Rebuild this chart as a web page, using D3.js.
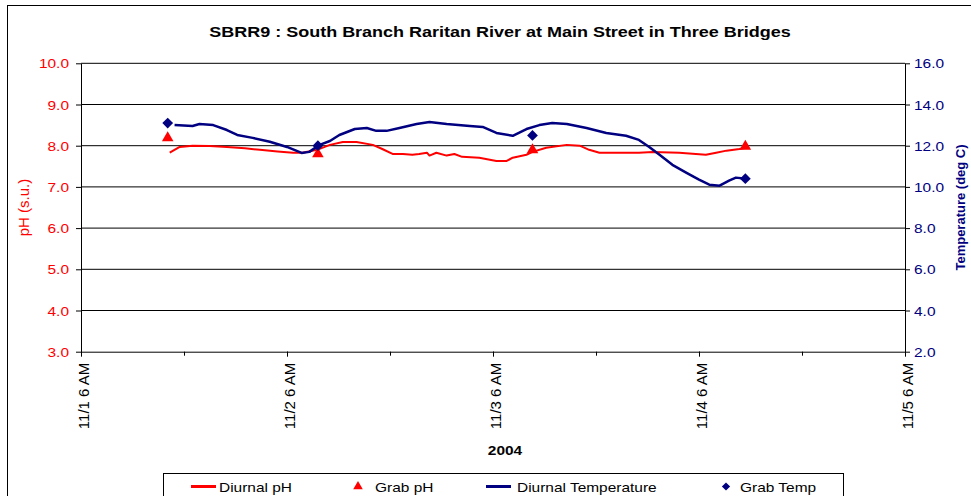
<!DOCTYPE html>
<html>
<head>
<meta charset="utf-8">
<script src="https://cdn.jsdelivr.net/npm/d3@7"></script>
<style>
  body { margin: 0; background: #fff; }
  svg { display: block; font-family: Arial, "Liberation Sans", sans-serif; }
</style>
</head>
<body>
<svg id="chart" width="971" height="496"></svg>
<script>
// ---- Data: South Branch Raritan River at Main Street, Three Bridges (Nov 2004) ----
const chartTitle = "SBRR9 :  South Branch Raritan River at Main Street in Three Bridges";
const xTitle = "2004";
const phTitle = "pH (s.u.)";
const tempTitle = "Temperature (deg C)";
const legendLabels = ["Diurnal pH", "Grab pH", "Diurnal Temperature", "Grab Temp"];

const phTicks = [3, 4, 5, 6, 7, 8, 9, 10];
const tempTicks = [2, 4, 6, 8, 10, 12, 14, 16];
const xStart = "2004/11/01 06:00";
const xEnd = "2004/11/05 06:00";

// continuous sonde record, pH
const diurnalPh = [
  ["11/01 16:20", 7.83], ["11/01 17:30", 7.97], ["11/01 19:00", 8.00], ["11/01 21:00", 7.99],
  ["11/01 23:00", 7.97], ["11/02 01:06", 7.94], ["11/02 02:50", 7.90], ["11/02 04:54", 7.86],
  ["11/02 06:42", 7.83], ["11/02 07:48", 7.83], ["11/02 09:30", 7.90], ["11/02 11:00", 8.02],
  ["11/02 12:30", 8.09], ["11/02 14:06", 8.09], ["11/02 16:00", 8.02], ["11/02 17:06", 7.92],
  ["11/02 18:18", 7.80], ["11/02 19:30", 7.80], ["11/02 20:36", 7.78], ["11/02 21:24", 7.80],
  ["11/02 22:18", 7.83], ["11/02 22:36", 7.76], ["11/02 23:24", 7.83], ["11/03 00:36", 7.76],
  ["11/03 01:30", 7.80], ["11/03 02:24", 7.73], ["11/03 04:24", 7.71], ["11/03 06:24", 7.63],
  ["11/03 07:36", 7.63], ["11/03 08:18", 7.71], ["11/03 09:54", 7.78], ["11/03 10:36", 7.85],
  ["11/03 12:12", 7.95], ["11/03 14:36", 8.02], ["11/03 16:06", 8.00], ["11/03 17:12", 7.90],
  ["11/03 18:24", 7.83], ["11/03 20:42", 7.83], ["11/03 23:00", 7.83], ["11/04 00:36", 7.85],
  ["11/04 03:42", 7.83], ["11/04 06:48", 7.78], ["11/04 08:00", 7.83], ["11/04 09:12", 7.88],
  ["11/04 10:42", 7.92], ["11/04 11:30", 7.95]
];

// continuous sonde record, water temperature
const diurnalTemp = [
  ["11/01 16:54", 13.00], ["11/01 19:00", 12.96], ["11/01 19:48", 13.05], ["11/01 21:24", 13.00],
  ["11/01 23:00", 12.76], ["11/02 00:12", 12.52], ["11/02 02:00", 12.38], ["11/02 04:00", 12.19],
  ["11/02 06:00", 11.94], ["11/02 07:42", 11.65], ["11/02 08:36", 11.70], ["11/02 09:48", 12.04],
  ["11/02 11:00", 12.23], ["11/02 12:06", 12.52], ["11/02 13:54", 12.81], ["11/02 15:18", 12.86],
  ["11/02 16:24", 12.72], ["11/02 17:36", 12.72], ["11/02 19:06", 12.86], ["11/02 21:06", 13.05],
  ["11/02 22:36", 13.15], ["11/03 00:36", 13.05], ["11/03 03:18", 12.96], ["11/03 04:48", 12.91],
  ["11/03 06:24", 12.62], ["11/03 08:18", 12.48], ["11/03 09:54", 12.81], ["11/03 11:24", 13.00],
  ["11/03 12:54", 13.10], ["11/03 14:36", 13.05], ["11/03 16:54", 12.86], ["11/03 19:12", 12.62],
  ["11/03 21:30", 12.48], ["11/03 23:00", 12.28], ["11/04 00:12", 11.94], ["11/04 01:24", 11.56],
  ["11/04 02:54", 11.07], ["11/04 04:30", 10.69], ["11/04 06:00", 10.35], ["11/04 07:12", 10.11],
  ["11/04 08:24", 10.06], ["11/04 09:30", 10.30], ["11/04 10:18", 10.45], ["11/04 11:30", 10.40]
];

// discrete grab samples
const grabTimes = ["11/01 16:06", "11/02 09:36", "11/03 10:36", "11/04 11:24"];
const grabPh = [8.19, 7.80, 7.90, 7.98];
const grabTemp = [13.1, 12.0, 12.5, 10.4];

// ---- Styling ----
const RED = "#FF0000";
const NAVY = "#000080";
const SX = 1.19;           // horizontal stretch of horizontal text
const plot = { left: 81, right: 905, top: 63.3, bottom: 351.7 };

const parse = d3.timeParse("%Y/%m/%d %H:%M");
const t = s => parse("2004/" + s);

const svg = d3.select("#chart");

// outer chart frame
svg.append("rect")
  .attr("x", 7.5).attr("y", 5.5)
  .attr("width", 970).attr("height", 500)
  .attr("fill", "#fff").attr("stroke", "#000").attr("stroke-width", 1);

const x = d3.scaleTime().domain([parse(xStart), parse(xEnd)]).range([plot.left, plot.right]);
const yPh = d3.scaleLinear().domain([3, 10]).range([plot.bottom, plot.top]);
const yTemp = d3.scaleLinear().domain([2, 16]).range([plot.bottom, plot.top]);

// title
svg.append("g").attr("transform", "translate(500,37)")
  .append("text")
  .attr("text-anchor", "middle")
  .attr("transform", "scale(1.2,1)")
  .attr("font-size", 15).attr("font-weight", "bold").attr("fill", "#000")
  .text(chartTitle);

// horizontal gridlines
svg.append("g").selectAll("line")
  .data(phTicks.slice(1))
  .join("line")
  .attr("x1", plot.left).attr("x2", plot.right)
  .attr("y1", d => yPh(d)).attr("y2", d => yPh(d))
  .attr("stroke", "#000").attr("stroke-width", 1);

// left pH axis
const gLeft = svg.append("g").attr("transform", `translate(${plot.left},0)`)
  .call(d3.axisLeft(yPh).tickValues(phTicks).tickSize(5).tickSizeOuter(0).tickFormat(d3.format(".1f")));
gLeft.select(".domain").attr("stroke", "#000");
gLeft.selectAll(".tick line").attr("stroke", "#000");
gLeft.selectAll(".tick text")
  .attr("x", -12 / SX).attr("dy", "0.36em")
  .attr("transform", `scale(${SX},1)`)
  .attr("font-size", 13).attr("font-family", "Arial, 'Liberation Sans', sans-serif")
  .attr("fill", RED);

// right temperature axis
const gRight = svg.append("g").attr("transform", `translate(${plot.right},0)`)
  .call(d3.axisRight(yTemp).tickValues(tempTicks).tickSize(5).tickSizeOuter(0).tickFormat(d3.format(".1f")));
gRight.select(".domain").attr("stroke", "#000");
gRight.selectAll(".tick line").attr("stroke", "#000");
gRight.selectAll(".tick text")
  .attr("x", 9 / SX).attr("dy", "0.36em")
  .attr("transform", `scale(${SX},1)`)
  .attr("font-size", 13).attr("font-family", "Arial, 'Liberation Sans', sans-serif")
  .attr("fill", NAVY);

// bottom time axis: minor ticks every 12 h, labelled major ticks each day at 6 AM
const majorTicks = d3.range(5).map(i => d3.timeDay.offset(parse(xStart), i));
const allTicks = d3.range(9).map(i => d3.timeHour.offset(parse(xStart), i * 12));
const fmt = d3.timeFormat("%-m/%-d %-I %p");

const gMinor = svg.append("g").attr("transform", `translate(0,${plot.bottom})`)
  .call(d3.axisBottom(x).tickValues(allTicks).tickSize(4).tickSizeOuter(0).tickFormat(""));
gMinor.select(".domain").attr("stroke", "#000");
gMinor.selectAll(".tick line").attr("stroke", "#000");

const gMajor = svg.append("g").attr("transform", `translate(0,${plot.bottom})`)
  .call(d3.axisBottom(x).tickValues(majorTicks).tickSize(5).tickSizeOuter(0).tickFormat(fmt));
gMajor.select(".domain").remove();
gMajor.selectAll(".tick line").attr("stroke", "#000");
gMajor.selectAll(".tick text")
  .attr("text-anchor", "end")
  .attr("font-size", 15).attr("font-family", "Arial, 'Liberation Sans', sans-serif")
  .attr("fill", "#000")
  .attr("x", -11).attr("y", 2).attr("dy", "0.36em")
  .attr("transform", "rotate(-90)");

// axis titles
svg.append("g").attr("transform", "translate(505,455)")
  .append("text").attr("text-anchor", "middle")
  .attr("transform", `scale(${SX},1)`)
  .attr("font-size", 13).attr("font-weight", "bold").attr("fill", "#000")
  .text(xTitle);

svg.append("text")
  .attr("transform", `translate(29,${(plot.top + plot.bottom) / 2}) rotate(-90)`)
  .attr("text-anchor", "middle")
  .attr("font-size", 15).attr("fill", RED)
  .text(phTitle);

svg.append("text")
  .attr("transform", `translate(965,${(plot.top + plot.bottom) / 2}) rotate(-90)`)
  .attr("text-anchor", "middle")
  .attr("font-size", 13).attr("font-weight", "bold").attr("fill", NAVY)
  .text(tempTitle);

// series
const phLine = d3.line().x(d => x(t(d[0]))).y(d => yPh(d[1]));
const tempLine = d3.line().x(d => x(t(d[0]))).y(d => yTemp(d[1]));

svg.append("path").datum(diurnalPh)
  .attr("d", phLine).attr("fill", "none")
  .attr("stroke", RED).attr("stroke-width", 2).attr("stroke-linejoin", "round");

svg.append("path").datum(diurnalTemp)
  .attr("d", tempLine).attr("fill", "none")
  .attr("stroke", NAVY).attr("stroke-width", 2.5).attr("stroke-linejoin", "round");

const triangle = d3.symbol(d3.symbolTriangle, 58);
const diamond = d3.symbol(d3.symbolSquare, 58);

svg.append("g").selectAll("path")
  .data(grabTimes.map((s, i) => [s, grabPh[i]]))
  .join("path")
  .attr("d", triangle)
  .attr("transform", d => `translate(${x(t(d[0]))},${yPh(d[1])})`)
  .attr("fill", RED);

svg.append("g").selectAll("path")
  .data(grabTimes.map((s, i) => [s, grabTemp[i]]))
  .join("path")
  .attr("d", diamond)
  .attr("transform", d => `translate(${x(t(d[0]))},${yTemp(d[1])}) rotate(45)`)
  .attr("fill", NAVY);

// legend
const legend = svg.append("g");
legend.append("rect")
  .attr("x", 163.5).attr("y", 473.5).attr("width", 680).attr("height", 40)
  .attr("fill", "#fff").attr("stroke", "#000").attr("stroke-width", 1);

const legendY = 487.5;
const legendItems = [
  { kind: "line", color: RED, sx: 191, tx: 219 },
  { kind: "tri", color: RED, sx: 358, tx: 375 },
  { kind: "line", color: NAVY, sx: 486, tx: 517 },
  { kind: "dia", color: NAVY, sx: 726, tx: 740 }
];
legendItems.forEach((it, i) => {
  if (it.kind === "line") {
    legend.append("line")
      .attr("x1", it.sx).attr("x2", it.sx + 25)
      .attr("y1", legendY - 1).attr("y2", legendY - 1)
      .attr("stroke", it.color).attr("stroke-width", 3);
  } else if (it.kind === "tri") {
    legend.append("path").attr("d", d3.symbol(d3.symbolTriangle, 40))
      .attr("transform", `translate(${it.sx},${legendY - 1})`).attr("fill", it.color);
  } else {
    legend.append("path").attr("d", d3.symbol(d3.symbolSquare, 34))
      .attr("transform", `translate(${it.sx},${legendY - 1}) rotate(45)`).attr("fill", it.color);
  }
  legend.append("g").attr("transform", `translate(${it.tx},${legendY})`)
    .append("text")
    .attr("transform", `scale(${SX},1)`)
    .attr("dy", "0.36em")
    .attr("font-size", 13).attr("fill", "#000")
    .text(legendLabels[i]);
});
</script>
</body>
</html>
